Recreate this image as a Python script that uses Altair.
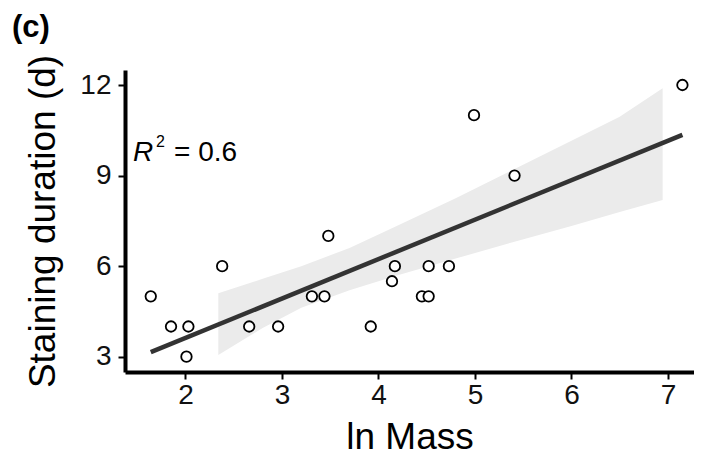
import altair as alt
import pandas as pd

# Scatter points
ln_mass = [1.64, 1.85, 2.03, 2.01, 2.38, 2.66, 2.96, 3.31, 3.44, 3.48,
           3.92, 4.14, 4.17, 4.45, 4.52, 4.52, 4.73, 4.99, 5.41, 7.15]
duration = [5, 4, 4, 3, 6, 4, 4, 5, 5, 7,
            4, 5.5, 6, 5, 5, 6, 6, 11, 9, 12]

# Confidence band edges
band_x = [2.34, 2.8, 3.2, 3.7, 4.2, 4.8, 5.4, 6.0, 6.5, 6.945]
band_lower = [3.06, 3.95, 4.62, 5.2, 5.7, 6.25, 6.8, 7.33, 7.79, 8.19]
band_upper = [5.10, 5.58, 6.0, 6.6, 7.35, 8.25, 9.2, 10.15, 10.95, 11.89]

x_ticks = [2, 3, 4, 5, 6, 7]
y_ticks = [3, 6, 9, 12]

panel_label = ["(c)"]
r_label = ["R"]
r_sup = ["2"]
r_value = ["= 0.6"]

FONT = "Liberation Sans"

pts = pd.DataFrame({"ln_mass": ln_mass, "duration": duration})
band_df = pd.DataFrame({"ln_mass": band_x, "lower": band_lower, "upper": band_upper})

xscale = alt.Scale(domain=[1.373, 7.27], nice=False, zero=False)
yscale = alt.Scale(domain=[2.493, 12.497], nice=False, zero=False)

xaxis = alt.Axis(values=x_ticks, title="ln Mass", grid=False,
                 domainColor="black", domainWidth=4, tickColor="black",
                 tickWidth=2, tickSize=7, labelFont=FONT, labelFontSize=28,
                 labelColor="#111111", labelPadding=2, titleFont=FONT,
                 titleFontSize=37, titleFontWeight="normal", titleColor="black",
                 titlePadding=10, format="d")
yaxis = alt.Axis(values=y_ticks, title="Staining duration (d)", grid=False,
                 domainColor="black", domainWidth=4, tickColor="black",
                 tickWidth=2, tickSize=7, labelFont=FONT, labelFontSize=28,
                 labelColor="#111111", labelPadding=7, titleFont=FONT,
                 titleFontSize=37, titleFontWeight="normal", titleColor="black",
                 titlePadding=17, format="d")

band = alt.Chart(band_df).mark_area(color="#ebebeb", opacity=1).encode(
    x=alt.X("ln_mass:Q", scale=xscale, axis=xaxis),
    y=alt.Y("lower:Q", scale=yscale, axis=yaxis),
    y2="upper:Q",
)

line = alt.Chart(pts).transform_regression("ln_mass", "duration").mark_line(
    color="#333333", strokeWidth=4.5, strokeCap="butt").encode(
    x=alt.X("ln_mass:Q", scale=xscale, axis=xaxis),
    y=alt.Y("duration:Q", scale=yscale, axis=yaxis),
)

points = alt.Chart(pts).mark_point(
    shape="circle", fill="white", fillOpacity=1, stroke="black",
    strokeWidth=1.8, size=110, opacity=1).encode(
    x=alt.X("ln_mass:Q", scale=xscale, axis=xaxis),
    y=alt.Y("duration:Q", scale=yscale, axis=yaxis),
)

def label(values, x, y, size, style="normal", weight="normal"):
    return alt.Chart(pd.DataFrame({"t": values})).mark_text(
        font=FONT, fontSize=size, fontStyle=style, fontWeight=weight,
        align="left", baseline="alphabetic", color="black").encode(
        text="t:N", x=alt.value(x), y=alt.value(y))

ann = (label(panel_label, -113, -33, 31, weight="bold")
       + label(r_label, 8, 91, 28, style="italic")
       + label(r_sup, 31, 77, 16)
       + label(r_value, 49, 91, 28))

chart = alt.layer(band, line, points, ann).properties(
    width=569, height=302,
    autosize=alt.AutoSizeParams(type="none"),
    padding={"left": 117, "top": 62, "right": 0, "bottom": 84},
).configure(background="white").configure_view(stroke="transparent", strokeWidth=0)

chart.save("out.html", embed_options={"renderer": "svg", "actions": False})
